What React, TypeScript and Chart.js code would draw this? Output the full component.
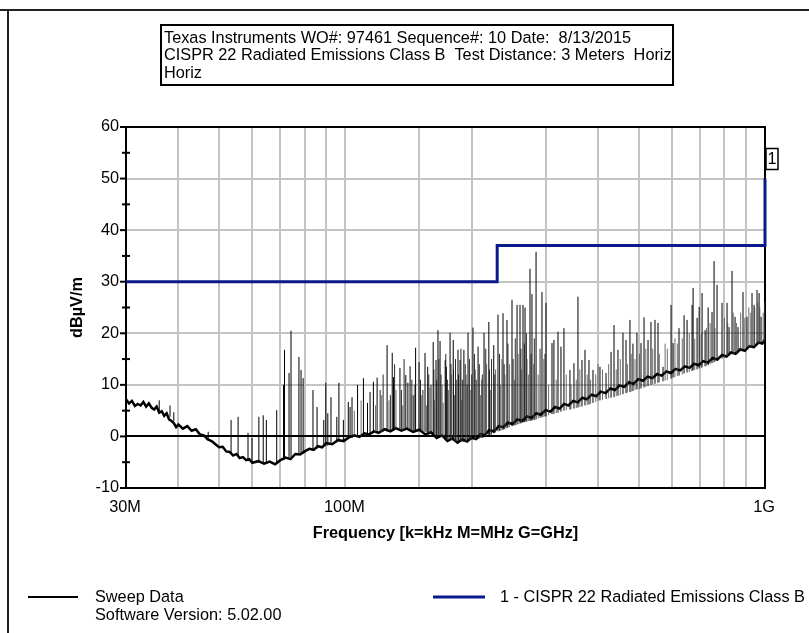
import React, { useEffect, useRef } from "react";
import { Chart, registerables } from "chart.js";

Chart.register(...registerables);

// ---------- data ----------
const X_MIN = 30;
const X_MAX = 1000;
const Y_MIN = -10;
const Y_MAX = 60;

const headerLines = [
  "Texas Instruments WO#: 97461 Sequence#: 10 Date:  8/13/2015",
  "CISPR 22 Radiated Emissions Class B  Test Distance: 3 Meters  Horiz",
  "Horiz",
];

const yTickValues = [-10, 0, 10, 20, 30, 40, 50, 60];
const xTickValues = [30, 100, 1000];
const xTickLabels = ["30M", "100M", "1G"];

// noise floor of the sweep (MHz, dBµV/m)
const floorFreqs = [
  30, 30.5, 31, 31.5, 32, 32.5, 33, 33.5, 34, 34.5, 35, 35.5, 36, 36.5, 37, 37.5, 38, 38.5, 39, 39.5,
  40, 41, 42, 43, 44, 45, 46, 47, 48, 49, 50, 51, 52, 53, 54, 55, 56, 57, 58, 59,
  60, 62, 64, 66, 68, 70, 72, 74, 76, 78, 80, 82, 84, 86, 88, 90, 93, 96, 99, 102,
  105, 108, 111, 114, 117, 120, 124, 128, 132, 136, 140, 145, 150, 155, 160, 165, 170, 175, 180, 185,
  190, 195, 200, 205, 210, 215, 220, 226, 232, 238, 244, 250, 257, 264, 271, 278, 285, 292, 300, 308,
  316, 324, 332, 340, 349, 358, 367, 376, 386, 396, 406, 417, 428, 439, 450, 462, 474, 486, 499, 512,
  525, 539, 553, 567, 582, 597, 612, 628, 644, 661, 678, 695, 713, 731, 750, 770, 790, 810, 830, 851,
  873, 895, 918, 941, 965, 985, 1000,
];
const floorLevels = [
  7.2, 6.4, 6.9, 5.9, 6.3, 6.0, 6.7, 5.8, 6.4, 5.6, 5.2, 5.8, 4.6, 4.9, 4.0, 4.5, 3.3, 3.0, 2.6, 1.8,
  2.3, 1.5, 2.0, 1.1, 1.4, 0.4, 0.2, -0.6, -0.9, -1.5, -2.1, -2.0, -2.9, -3.0, -3.7, -3.4, -4.2, -4.0, -4.6, -4.4,
  -5.1, -4.8, -5.3, -4.9, -5.4, -4.6, -4.1, -4.4, -3.4, -3.5, -2.9, -2.4, -2.6, -1.9, -2.1, -1.3, -1.5, -0.7, -0.9, -0.2,
  0.2, -0.1, 0.6, 0.4, 1.0, 0.7, 1.4, 1.0, 1.6, 1.1, 1.5, 0.9, 1.3, 0.4, 0.8, -0.3, 0.2, -0.9, -0.4, -1.2,
  -0.6, -1.0, -0.2, -0.5, 0.5, 0.2, 1.2, 1.0, 2.0, 1.8, 2.7, 2.4, 3.3, 3.0, 3.9, 3.6, 4.5, 4.2, 5.1, 4.8,
  5.7, 5.4, 6.3, 6.0, 6.9, 6.6, 7.5, 7.2, 8.1, 7.8, 8.7, 8.4, 9.3, 9.0, 9.9, 9.6, 10.5, 10.2, 11.1, 10.8,
  11.6, 11.3, 12.1, 11.8, 12.6, 12.3, 13.1, 12.8, 13.6, 13.3, 14.1, 13.8, 14.6, 14.3, 15.2, 14.9, 15.8, 15.5, 16.3, 16.0,
  16.9, 16.6, 17.5, 17.3, 18.2, 18.0, 18.8,
];

// tall emission peaks (MHz, base dB, peak dB)
const spikeFreqs = [
  36.0, 38.2, 39.0, 47.1, 53.4, 55.5, 58.6, 59.9, 62.2, 63.7, 64.8, 68.6, 71.2, 71.6, 73.4, 74.2, 77.5, 78.4, 79.3, 83.7,
  85.6, 88.8, 89.8, 90.8, 92.4, 95.4, 96.5, 98.9, 101.6, 102.6, 103.7, 106.9, 110.4, 112.9, 114.5, 116.6, 119.0, 125.7, 129.3, 130.2,
  134.9, 139.3, 140.9, 142.6, 147.0, 149.8, 154.8, 157.1, 161.9, 164.4, 166.2, 168.1, 172.9, 174.0, 177.6, 180.7, 185.5, 187.6, 191.6, 196.0,
  201.4, 207.1, 214.0, 219.7, 225.7, 231.0, 237.5, 242.7, 249.5, 256.5, 260.7, 265.0, 268.0, 275.4, 278.4, 284.7, 294.1, 300.7, 310.7, 314.0,
  321.1, 326.4, 331.8, 342.9, 350.5, 358.3, 366.3, 372.4, 380.6, 389.1, 404.3, 418.0, 429.6, 436.7, 446.3, 458.7, 466.4, 476.6, 484.5, 495.2,
  506.4, 514.9, 526.3, 534.9, 546.8, 555.9, 571.4, 597.2, 603.9, 623.8, 641.4, 652.0, 670.1, 674.0, 688.9, 696.7, 708.0, 719.8, 732.0, 747.7,
  756.1, 768.6, 789.9, 812.0, 821.0, 834.5, 848.3, 862.5, 886.3, 905.9, 931.3, 941.6, 957.2, 968.1, 978.5,
];
const spikeBases = [
  4.8, 3.8, 3.0, -0.5, -3.3, -3.6, -4.5, -4.8, -5.0, -5.0, -5.1, -5.0, -4.6, -4.5, -4.2, -4.0, -3.6, -3.5, -3.3, -2.6,
  -2.4, -2.0, -1.9, -1.8, -1.6, -1.2, -1.0, -0.8, -0.4, -0.3, -0.3, 0.0, 0.2, 0.3, 0.4, 0.6, 0.7, 1.0, 1.2, 1.2,
  1.3, 1.3, 1.3, 1.2, 1.1, 1.0, 0.9, 0.8, 0.5, 0.3, 0.2, 0.0, -0.4, -0.5, -0.7, -0.8, -0.9, -1.0, -1.0, -0.8,
  -0.6, -0.5, -0.2, 0.2, 0.6, 1.0, 1.3, 1.6, 2.0, 2.3, 2.5, 2.7, 2.8, 3.0, 3.1, 3.3, 3.7, 3.9, 4.3, 4.4,
  4.6, 4.8, 5.0, 5.2, 5.4, 5.6, 5.8, 6.0, 6.2, 6.5, 7.0, 7.3, 7.5, 7.6, 7.9, 8.2, 8.4, 8.6, 8.8, 9.1,
  9.3, 9.5, 9.8, 10.0, 10.2, 10.4, 10.7, 11.2, 11.4, 11.8, 12.2, 12.4, 12.7, 12.8, 13.0, 13.2, 13.4, 13.6, 13.8, 14.2,
  14.4, 14.7, 15.1, 15.5, 15.7, 15.9, 16.1, 16.3, 16.7, 17.0, 17.4, 17.6, 17.8, 18.0, 18.1,
];
const spikeTops = [
  7.0, 6.0, 4.7, 0.9, 3.2, 3.8, 0.7, -0.3, 3.8, 4.1, 3.2, 5.1, 10.0, 16.8, 12.3, 20.5, 15.4, 12.9, 11.3, 9.0,
  5.7, 3.2, 10.4, 4.5, 7.6, 3.8, 10.4, 3.2, 6.7, 5.7, 7.6, 10.0, 11.3, 6.5, 8.6, 10.6, 11.4, 17.7, 16.2, 11.5,
  13.3, 11.9, 10.4, 13.6, 17.2, 14.4, 16.2, 13.5, 18.3, 14.8, 20.6, 18.5, 14.8, 13.5, 20.1, 18.7, 16.8, 14.8, 16.8, 20.1,
  21.1, 17.4, 20.1, 22.2, 17.7, 23.6, 23.9, 22.6, 26.5, 25.5, 25.5, 25.5, 25.0, 32.5, 27.6, 35.8, 28.0, 25.9, 18.1, 18.7,
  20.3, 17.4, 21.0, 12.9, 14.2, 27.1, 14.8, 16.8, 14.8, 12.9, 13.5, 12.3, 16.4, 21.6, 16.8, 20.1, 18.7, 22.6, 18.0, 20.1,
  18.1, 23.1, 18.7, 22.2, 22.6, 22.0, 13.5, 25.5, 18.1, 21.0, 23.5, 22.6, 25.5, 28.8, 23.0, 25.1, 27.8, 20.6, 25.0, 24.1,
  34.0, 29.4, 25.9, 25.9, 21.2, 32.1, 23.2, 21.2, 28.0, 23.2, 27.8, 25.5, 28.4, 27.8, 23.2,
];

// crowded mid-band peaks (MHz, base dB, peak dB)
const denseFreqs = [
  121, 123, 128, 131, 136, 138, 144, 145.5,
  151, 153, 158, 160, 162.5, 165, 167, 169, 173.5, 175, 178.5, 181, 183, 186, 188.5, 190, 193, 195, 197.5, 200,
  203, 205, 208.5, 212, 216, 220.5, 223, 227, 233, 239, 244, 251, 254, 262, 267, 270, 277, 282, 291, 299,
];
const denseBases = [
  0.8, 0.9, 1.1, 1.2, 1.3, 1.3, 1.2, 1.1,
  1.0, 0.9, 0.7, 0.6, 0.4, 0.2, 0.1, 0.0, -0.4, -0.5, -0.7, -0.8, -0.9, -1.0, -1.0, -1.0, -1.0, -0.9, -0.8, -0.7,
  -0.6, -0.5, -0.4, -0.3, -0.1, 0.2, 0.4, 0.7, 1.1, 1.4, 1.7, 2.1, 2.2, 2.6, 2.8, 2.9, 3.1, 3.2, 3.6, 3.9,
];
const denseTops = [
  9, 12, 8, 14, 9, 15, 11, 8,
  11, 9, 12, 10, 13, 11, 15, 12, 16, 11, 14, 13, 15, 12, 17, 11, 14, 10, 15, 12,
  16, 11, 14, 12, 17, 13, 15, 12, 16, 14, 18, 15, 19, 17, 18, 20, 16, 19, 17, 16,
];

// lower, fainter peaks (MHz, base dB, peak dB)
const minorFreqs = [
  105, 109, 118, 122, 127, 132, 137, 144, 146,
  152, 156, 159, 163, 170, 171, 176, 179, 182, 184, 189, 194, 199, 204, 210, 211, 217, 222, 228, 234,
  236, 240, 246, 253, 258, 263, 271, 273, 281, 288, 297, 305, 318, 336, 345, 355, 362, 377, 384, 395,
  400, 410, 424, 442, 452, 470, 480, 490, 502, 520, 540, 560, 578, 585, 610, 618, 635, 660, 680, 705,
  725, 740, 760, 800, 815, 840, 855, 875, 895, 915, 925, 945, 962, 972, 990, 997,
];
const minorBases = [
  0.1, 0.1, 0.8, 0.9, 1.0, 1.2, 1.2, 1.2, 1.1,
  1.0, 0.8, 0.7, 0.4, -0.1, -0.2, -0.6, -0.7, -0.8, -0.9, -1.0, -0.9, -0.7, -0.5, -0.3, -0.3, 0.0, 0.3, 0.8, 1.1,
  1.2, 1.4, 1.8, 2.1, 2.4, 2.6, 2.9, 3.0, 3.2, 3.5, 3.8, 4.1, 4.5, 5.1, 5.3, 5.5, 5.7, 6.1, 6.3, 6.7,
  6.9, 7.1, 7.4, 7.8, 8.0, 8.5, 8.7, 9.0, 9.2, 9.6, 10.1, 10.5, 10.8, 10.9, 11.5, 11.7, 12.0, 12.5, 12.9, 13.3,
  13.7, 14.0, 14.5, 15.3, 15.6, 16.0, 16.2, 16.5, 16.8, 17.2, 17.3, 17.6, 17.9, 18.0, 18.3, 18.5,
];
const minorTops = [
  5, 7, 6, 8, 7, 9, 6, 8, 10,
  8, 6, 9.5, 7, 10, 6.5, 9, 12, 8, 11, 7, 12, 9, 13, 8, 11, 14, 9, 13, 10,
  15, 12, 14, 11, 16, 13, 15, 12, 14, 12, 15, 10, 11, 12, 10, 11, 13, 12, 11, 12,
  14, 13, 14, 13, 15, 14, 16, 15, 16, 17, 17, 16, 18, 17, 19, 18, 19, 20, 19, 20,
  21, 22, 21, 23, 22, 24, 22, 24, 23, 25, 24, 25, 26, 25, 24, 26,
];

// CISPR 22 Class B limit (3 m)
const limitFreqs = [30, 230, 230, 1000, 1000];
const limitLevels = [30, 30, 37, 37, 50];

const sweepLabel = "Sweep Data";
const softwareLabel = "Software Version: 5.02.00";
const limitLabel = "1 - CISPR 22 Radiated Emissions Class B";
const xTitle = "Frequency [k=kHz M=MHz G=GHz]";
const yTitle = "dBµV/m";

// ---------- styles ----------
const FONT = '"Liberation Sans", Arial, sans-serif';
const FS = "16.3px";
const LIMIT_COLOR = "#0a1a8a";
const GRID_COLOR = "#c3c3c3";

function spikeSeries(freqs: number[], bases: number[], tops: number[]) {
  const pts: { x: number; y: number | null }[] = [];
  for (let i = 0; i < freqs.length; i++) {
    pts.push({ x: freqs[i], y: bases[i] });
    pts.push({ x: freqs[i], y: tops[i] });
    pts.push({ x: freqs[i], y: null });
  }
  return pts;
}

const framePlugin = {
  id: "frame",
  beforeDatasetsDraw(chart: any) {
    const { ctx, chartArea: a } = chart;
    ctx.save();
    ctx.strokeStyle = "#000";
    ctx.lineWidth = 2;
    ctx.strokeRect(a.left, a.top, a.right - a.left, a.bottom - a.top);
    ctx.restore();
  },
  afterDraw(chart: any) {
    const { ctx, chartArea: a, scales } = chart;
    const xs = scales.x;
    const ys = scales.y;
    ctx.save();

    // page frame
    ctx.strokeStyle = "#222";
    ctx.lineWidth = 2;
    ctx.beginPath();
    ctx.moveTo(0, 10);
    ctx.lineTo(809, 10);
    ctx.moveTo(8, 10);
    ctx.lineTo(8, 633);
    ctx.stroke();

    // y ticks
    ctx.strokeStyle = "#000";
    ctx.lineWidth = 2;
    for (let v = Y_MIN; v <= Y_MAX; v += 5) {
      const py = ys.getPixelForValue(v);
      ctx.beginPath();
      if (v % 10 === 0) {
        ctx.moveTo(a.left - 6, py);
        ctx.lineTo(a.left, py);
      } else {
        ctx.moveTo(a.left - 4, py);
        ctx.lineTo(a.left + 4, py);
      }
      ctx.stroke();
    }

    ctx.fillStyle = "#000";
    ctx.font = `${FS} ${FONT}`;
    ctx.textBaseline = "middle";
    ctx.textAlign = "right";
    yTickValues.forEach((v) => {
      ctx.fillText(String(v), a.left - 7, ys.getPixelForValue(v));
    });
    ctx.textAlign = "center";
    xTickValues.forEach((v, i) => {
      ctx.fillText(xTickLabels[i], xs.getPixelForValue(v) - 1, a.bottom + 20);
    });

    // axis titles
    ctx.font = `bold ${FS} ${FONT}`;
    ctx.fillText(xTitle, (a.left + a.right) / 2, a.bottom + 46);
    ctx.save();
    ctx.translate(78, (a.top + a.bottom) / 2);
    ctx.rotate(-Math.PI / 2);
    ctx.fillText(yTitle, 0, 0);
    ctx.restore();

    // limit marker "1"
    ctx.lineWidth = 1.5;
    ctx.strokeStyle = "#000";
    ctx.strokeRect(766, 148.5, 12, 21);
    ctx.font = `${FS} ${FONT}`;
    ctx.fillText("1", 772, 160);

    // header box
    ctx.lineWidth = 2;
    ctx.strokeRect(161, 25, 512, 60);
    ctx.textAlign = "left";
    headerLines.forEach((t, i) => {
      ctx.fillText(t, 164, 38.5 + i * 17.5);
    });

    // legend
    ctx.strokeStyle = "#000";
    ctx.lineWidth = 2;
    ctx.beginPath();
    ctx.moveTo(28, 597);
    ctx.lineTo(78, 597);
    ctx.stroke();
    ctx.fillText(sweepLabel, 95, 598);
    ctx.fillText(softwareLabel, 95, 616);
    ctx.strokeStyle = LIMIT_COLOR;
    ctx.lineWidth = 3;
    ctx.beginPath();
    ctx.moveTo(433, 597);
    ctx.lineTo(485, 597);
    ctx.stroke();
    ctx.fillText(limitLabel, 500, 598);

    ctx.restore();
  },
};

export default function App() {
  const canvasRef = useRef<HTMLCanvasElement | null>(null);

  useEffect(() => {
    const canvas = canvasRef.current;
    if (!canvas) return;

    const floorPts = floorFreqs.map((f, i) => ({ x: f, y: floorLevels[i] }));
    const limitPts = limitFreqs.map((f, i) => ({ x: f, y: limitLevels[i] }));

    const chart = new Chart(canvas, {
      type: "line",
      data: {
        datasets: [
          {
            label: "minor",
            data: spikeSeries(minorFreqs, minorBases, minorTops),
            borderColor: "rgba(60,60,60,0.75)",
            borderWidth: 1,
            pointRadius: 0,
            spanGaps: false,
          },
          {
            label: "dense",
            data: spikeSeries(denseFreqs, denseBases, denseTops),
            borderColor: "rgba(20,20,20,0.9)",
            borderWidth: 1,
            pointRadius: 0,
            spanGaps: false,
          },
          {
            label: "peaks",
            data: spikeSeries(spikeFreqs, spikeBases, spikeTops),
            borderColor: "#000",
            borderWidth: 1,
            pointRadius: 0,
            spanGaps: false,
          },
          {
            label: sweepLabel,
            data: floorPts,
            borderColor: "#000",
            borderWidth: 2.5,
            pointRadius: 0,
            tension: 0,
          },
          {
            label: limitLabel,
            data: limitPts,
            borderColor: LIMIT_COLOR,
            borderWidth: 3,
            pointRadius: 0,
            tension: 0,
            clip: 3,
          },
        ],
      } as any,
      options: {
        responsive: false,
        maintainAspectRatio: false,
        animation: false,
        events: [],
        layout: { padding: { left: 126, top: 127, right: 44, bottom: 145 } },
        plugins: {
          legend: { display: false },
          tooltip: { enabled: false },
          title: { display: false },
        },
        scales: {
          x: {
            type: "logarithmic",
            min: X_MIN,
            max: X_MAX,
            ticks: { display: false, autoSkip: false },
            grid: { drawTicks: false, color: GRID_COLOR, lineWidth: 2 },
            border: { display: false },
          },
          y: {
            type: "linear",
            min: Y_MIN,
            max: Y_MAX,
            ticks: { display: false, stepSize: 10 },
            grid: {
              drawTicks: false,
              color: (c: any) => (c.tick && c.tick.value === 0 ? "#000" : GRID_COLOR),
              lineWidth: 2,
            },
            border: { display: false },
          },
        },
      } as any,
      plugins: [framePlugin],
    });

    return () => chart.destroy();
  }, []);

  return (
    <div style={{ position: "absolute", left: 0, top: 0, width: 809, height: 633, background: "#fff" }}>
      <canvas ref={canvasRef} width={809} height={633} style={{ display: "block", width: 809, height: 633 }} />
    </div>
  );
}
